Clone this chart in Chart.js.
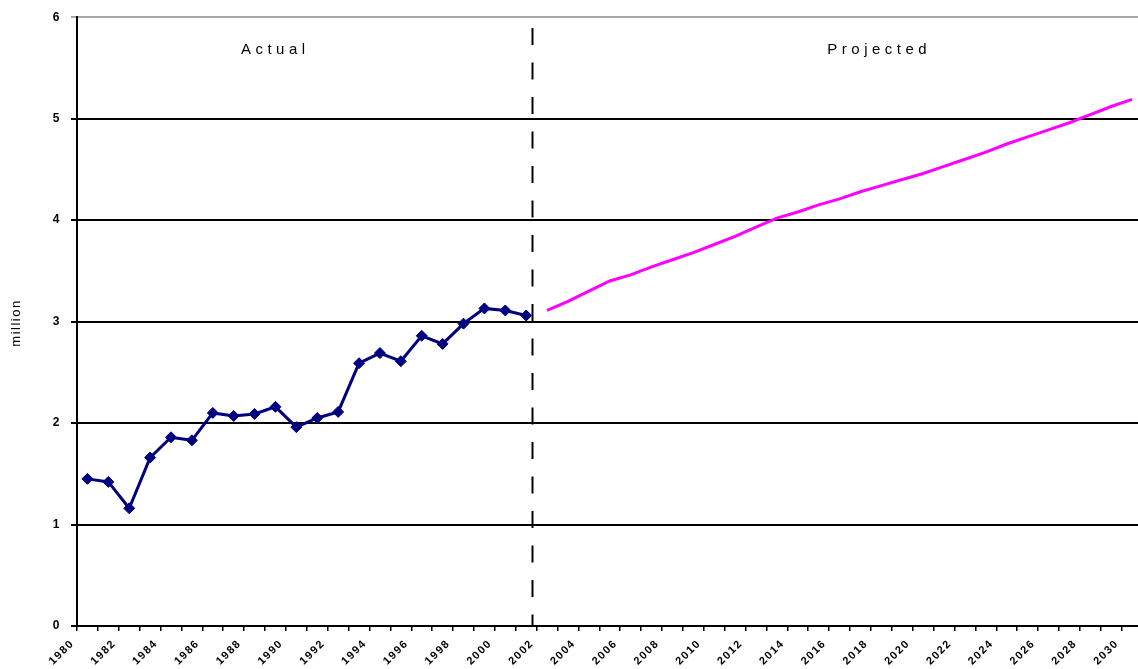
<!DOCTYPE html>
<html lang="en">
<head>
<meta charset="UTF-8">
<title>Actual and projected, million</title>
<script src="https://cdn.jsdelivr.net/npm/chart.js"></script>
<style>
  html, body { margin: 0; padding: 0; background: #fff; overflow: hidden; }
  #wrap { position: absolute; left: 0; top: 0; width: 1149px; height: 669px; }
</style>
</head>
<body>
<div id="wrap"><canvas id="chart" width="1149" height="669"></canvas></div>
<script>
// categories, one per year
const years = ['1980','1981','1982','1983','1984','1985','1986','1987','1988','1989',
  '1990','1991','1992','1993','1994','1995','1996','1997','1998','1999',
  '2000','2001','2002','2003','2004','2005','2006','2007','2008','2009',
  '2010','2011','2012','2013','2014','2015','2016','2017','2018','2019',
  '2020','2021','2022','2023','2024','2025','2026','2027','2028','2029','2030'];

// actual, 1980-2001 (million)
const actual = [1.45, 1.42, 1.16, 1.66, 1.86, 1.83, 2.10, 2.07, 2.09, 2.16,
  1.96, 2.05, 2.11, 2.59, 2.69, 2.61, 2.86, 2.78, 2.98, 3.13, 3.11, 3.06];

// projected, 2002-2030 (million)
const projected = [3.11, 3.20, 3.30, 3.40, 3.46, 3.54, 3.61, 3.68, 3.76, 3.84,
  3.93, 4.02, 4.08, 4.15, 4.21, 4.28, 4.34, 4.40, 4.46, 4.53,
  4.60, 4.67, 4.75, 4.82, 4.89, 4.96, 5.04, 5.12, 5.19];

const yMin = 0, yMax = 6, yStep = 1;
const splitAt = 21.3; // between 2001 and 2002

const actualData = actual.concat(projected.map(() => null));
const projectedData = actual.map(() => null).concat(projected);

const annotate = {
  id: 'annotate',
  beforeDraw(chart) {
    chart.ctx.letterSpacing = '1.5px';
  },
  beforeDatasetsDraw(chart) {
    const { ctx, chartArea, scales } = chart;
    const x = Math.round(scales.x.getPixelForValue(splitAt)) + 0.5;
    ctx.save();
    ctx.strokeStyle = '#000';
    ctx.lineWidth = 2;
    ctx.setLineDash([17, 17.5]);
    ctx.beginPath();
    ctx.moveTo(x, 28);
    ctx.lineTo(x, chartArea.bottom);
    ctx.stroke();
    ctx.restore();
  },
  afterDraw(chart) {
    const { ctx } = chart;
    ctx.save();
    ctx.fillStyle = '#000';
    ctx.font = '15px "Liberation Sans", Arial, sans-serif';
    ctx.letterSpacing = '4.5px';
    ctx.textBaseline = 'alphabetic';
    const put = (txt, cx, y) => {
      const w = ctx.measureText(txt).width - 4.5;
      ctx.fillText(txt, cx - w / 2, y);
    };
    put('Actual', 273, 54);
    put('Projected', 877, 54);

    ctx.font = '13px "Liberation Sans", Arial, sans-serif';
    ctx.letterSpacing = '1.5px';
    ctx.translate(16, 323);
    ctx.rotate(-Math.PI / 2);
    ctx.textAlign = 'center';
    ctx.textBaseline = 'middle';
    ctx.fillText('million', 0, 0);
    ctx.restore();
    ctx.letterSpacing = '0px';
  }
};

new Chart(document.getElementById('chart'), {
  type: 'line',
  data: {
    labels: years,
    datasets: [
      {
        label: 'Actual',
        data: actualData,
        borderColor: '#000080',
        backgroundColor: '#000080',
        borderWidth: 3,
        tension: 0,
        pointStyle: 'rectRot',
        pointRadius: 5.5,
        pointBorderWidth: 1,
        pointBackgroundColor: '#000080',
        pointBorderColor: '#000080'
      },
      {
        label: 'Projected',
        data: projectedData,
        borderColor: '#ff00ff',
        borderWidth: 3,
        tension: 0,
        pointRadius: 0
      }
    ]
  },
  options: {
    responsive: false,
    animation: false,
    layout: { padding: { top: 16, right: 0, left: 0, bottom: 0 } },
    plugins: { legend: { display: false }, tooltip: { enabled: false } },
    scales: {
      x: {
        offset: true,
        grid: { offset: true, drawOnChartArea: false, drawTicks: true, tickLength: 5, color: '#000', lineWidth: 1.5 },
        border: { color: '#000', width: 2 },
        ticks: {
          autoSkip: false, maxRotation: 45, minRotation: 45,
          labelOffset: -15, padding: 6, color: '#000',
          font: { family: '"Liberation Sans", Arial, sans-serif', size: 11, weight: 'bold' },
          callback: (v, i) => (i % 2 === 0 ? years[i] : '')
        },
        afterFit: s => { s.height = 43; }
      },
      y: {
        min: yMin, max: yMax,
        ticks: {
          stepSize: yStep, padding: 10, color: '#000',
          font: { family: '"Liberation Sans", Arial, sans-serif', size: 12, weight: 'bold' }
        },
        grid: {
          color: c => (c.tick && c.tick.value === yMax ? '#a8a8a8' : '#000'),
          lineWidth: 2, tickLength: 6
        },
        border: { color: '#000', width: 2 },
        afterFit: s => { s.width = 77; }
      }
    }
  },
  plugins: [annotate]
});
</script>
</body>
</html>
